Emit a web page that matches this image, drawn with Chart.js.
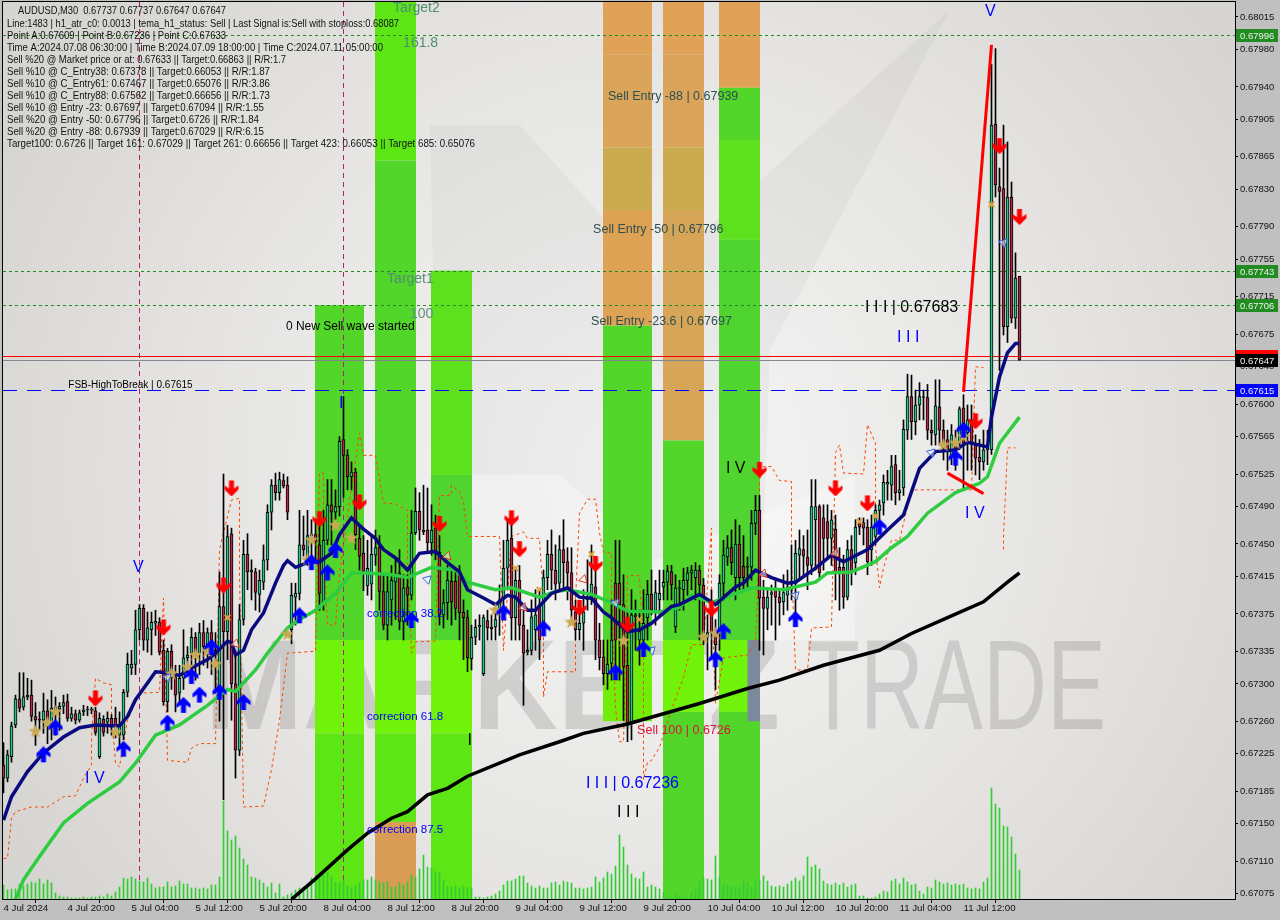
<!DOCTYPE html>
<html>
<head>
<meta charset="utf-8">
<title>AUDUSD,M30</title>
<style>html,body{margin:0;padding:0;background:#c0c0c0}canvas{display:block}</style>
<script src="https://cdn.jsdelivr.net/npm/chart.js@4"></script>
</head>
<body>
<canvas id="c" width="1280" height="920"></canvas>
<script>
// prices are in points (0.67647 = 67647)
const opens = [
67213,67199,67222,67256,67284,67275,67286,67288,67265,67262,
67261,67271,67253,67275,67273,67276,67281,67263,67268,67261,
67270,67272,67272,67271,67222,67262,67259,67263,67263,67245,
67245,67291,67317,67321,67358,67381,67347,67358,67365,67366,
67336,67281,67335,67307,67290,67306,67328,67333,67350,67333,
67355,67342,67355,67336,67294,67383,67356,67461,67300,67229,
67369,67439,67420,67420,67396,67409,67433,67484,67513,67505,
67518,67513,67358,67393,67397,67449,67434,67459,67460,67449,
67385,67454,67492,67484,67490,67562,67545,67522,67527,67456,
67440,67405,67407,67438,67446,67399,67363,67390,67409,67419,
67367,67404,67395,67462,67485,67465,67465,67451,67467,67441,
67374,67387,67410,67410,67419,67377,67371,67327,67350,67361,
67311,67368,67361,67361,67376,67392,67424,67456,67371,67411,
67363,67334,67336,67358,67385,67361,67414,67439,67422,67408,
67444,67431,67419,67377,67358,67365,67390,67390,67404,67347,
67329,67311,67322,67408,67408,67385,67320,67258,67372,67347,
67347,67371,67396,67376,67390,67404,67409,67420,67361,67402,
67401,67411,67419,67414,67422,67406,67350,67385,67355,67355,
67408,67436,67446,67414,67450,67426,67425,67425,67472,67486,
67393,67381,67396,67401,67393,67388,67395,67408,67408,67438,
67444,67436,67427,67476,67490,67478,67474,67456,67466,67425,
67425,67393,67444,67430,67473,67473,67468,67444,67458,67486,
67494,67514,67513,67535,67505,67510,67572,67608,67581,67599,
67607,67607,67572,67567,67597,67572,67562,67543,67558,67558,
67596,67569,67583,67558,67543,67538,67551,67551,67900,67833,
67831,67683,67822,67692,67737];
const highs = [
67237,67229,67259,67288,67312,67312,67306,67304,67280,67270,
67290,67283,67293,67286,67280,67288,67289,67275,67272,67272,
67277,67276,67275,67275,67269,67266,67270,67267,67275,67270,
67294,67333,67336,67379,67385,67385,67377,67377,67379,67371,
67347,67338,67342,67320,67320,67358,67340,67360,67355,67365,
67368,67360,67368,67355,67420,67525,67470,67467,67336,67385,
67454,67461,67433,67424,67422,67449,67492,67519,67526,67527,
67525,67522,67408,67408,67486,67480,67486,67476,67476,67478,
67486,67519,67519,67508,67565,67608,67551,67538,67531,67470,
67459,67454,67459,67465,67459,67417,67417,67427,67433,67444,
67417,67417,67486,67510,67505,67513,67510,67492,67481,67459,
67401,67427,67422,67420,67427,67390,67379,67363,67369,67374,
67374,67379,67374,67381,67406,67454,67476,67476,67422,67427,
67379,67358,67390,67401,67401,67422,67454,67465,67449,67459,
67476,67446,67446,67390,67379,67401,67433,67449,67433,67365,
67347,67347,67390,67454,67454,67417,67379,67401,67390,67379,
67401,67411,67422,67411,67422,67422,67427,67427,67417,67411,
67424,67425,67427,67430,67427,67413,67374,67401,67369,67417,
67454,67459,67465,67476,67470,67459,67436,67486,67502,67502,
67411,67401,67406,67411,67401,67417,67422,67449,67454,67465,
67459,67465,67519,67519,67492,67492,67492,67486,67481,67446,
67438,67454,67459,67476,67478,67478,67476,67481,67492,67497,
67524,67529,67545,67545,67529,67583,67632,67631,67615,67623,
67615,67621,67583,67626,67626,67583,67572,67578,67572,67597,
67610,67599,67599,67567,67562,67572,67572,67964,67981,67853,
67899,67881,67838,67762,67737];
const lows = [
67183,67195,67216,67253,67270,67272,67283,67260,67234,67251,
67247,67236,67240,67245,67250,67268,67260,67260,67257,67259,
67266,67266,67268,67245,67220,67244,67247,67245,67242,67234,
67240,67286,67310,67310,67347,67336,67334,67331,67352,67331,
67277,67270,67294,67270,67280,67294,67310,67310,67304,67310,
67320,67317,67310,67290,67260,67176,67326,67261,67199,67223,
67363,67401,67390,67379,67377,67401,67422,67465,67497,67497,
67510,67476,67343,67363,67390,67437,67427,67437,67433,67379,
67379,67449,67449,67476,67480,67500,67508,67508,67444,67422,
67400,67395,67390,67427,67379,67358,67347,67363,67369,67358,
67347,67363,67390,67460,67454,67460,67441,67438,67433,67363,
67360,67369,67363,67369,67347,67326,67313,67315,67342,67347,
67309,67347,67347,67347,67352,67379,67401,67347,67347,67347,
67277,67331,67331,67336,67326,67352,67401,67401,67390,67401,
67401,67390,67369,67347,67347,67336,67379,67385,67326,67315,
67299,67294,67304,67315,67304,67261,67238,67240,67336,67320,
67331,67347,67374,67363,67374,67390,67390,67390,67355,67379,
67379,67395,67401,67390,67347,67342,67315,67326,67294,67336,
67390,67427,67417,67390,67401,67401,67404,67411,67460,67336,
67331,67358,67363,67347,67363,67374,67379,67390,67369,67411,
67417,67401,67417,67422,67411,67422,67433,67427,67390,67379,
67381,67390,67406,67417,67460,67449,67417,67427,67449,67465,
67481,67497,67497,67492,67497,67502,67562,67562,67567,67583,
67583,67562,67556,67556,67556,67540,67529,67535,67529,67551,
67508,67529,67529,67524,67519,67529,67535,67546,67822,67636,
67674,67666,67687,67681,67647];
const closes = [
67199,67224,67255,67284,67274,67286,67288,67265,67261,67261,
67271,67262,67274,67270,67276,67280,67263,67268,67261,67269,
67272,67273,67273,67248,67263,67248,67263,67255,67254,67256,
67291,67321,67321,67358,67381,67347,67360,67366,67367,67334,
67281,67335,67306,67288,67306,67328,67331,67350,67331,67355,
67340,67355,67336,67332,67383,67356,67458,67300,67229,67369,
67439,67420,67422,67398,67411,67433,67484,67513,67505,67519,
67512,67484,67395,67397,67449,67444,67459,67461,67453,67397,
67454,67492,67484,67490,67560,67545,67522,67527,67460,67437,
67420,67424,67439,67446,67399,67363,67399,67411,67417,67367,
67403,67395,67462,67485,67465,67463,67451,67465,67440,67374,
67387,67411,67388,67381,67376,67371,67328,67350,67361,67363,
67371,67360,67359,67369,67390,67424,67454,67371,67411,67363,
67333,67336,67372,67374,67347,67414,67439,67422,67407,67444,
67430,67419,67379,67358,67365,67377,67392,67407,67347,67328,
67311,67321,67347,67347,67385,67318,67258,67374,67374,67356,
67365,67396,67379,67398,67397,67409,67421,67406,67403,67403,
67411,67419,67422,67422,67406,67355,67355,67355,67342,67408,
67438,67446,67430,67450,67414,67414,67426,67472,67486,67392,
67381,67393,67398,67393,67387,67398,67404,67410,67440,67445,
67437,67427,67490,67490,67419,67456,67456,67476,67419,67419,
67393,67444,67419,67468,67468,67467,67431,67468,67486,67492,
67516,67516,67533,67505,67508,67573,67608,67581,67599,67608,
67608,67572,67569,67598,67572,67554,67551,67567,67543,67595,
67558,67583,67558,67542,67538,67551,67553,67899,67835,67828,
67683,67822,67692,67735,67647];
const volumes = [
14,9,10,10,15,13,15,17,16,20,15,19,16,6,3,2,2,1,1,1,2,1,2,2,3,2,5,3,7,12,
21,20,22,20,18,17,21,15,11,12,12,17,12,13,18,15,15,11,11,10,11,10,14,14,22,
98,68,59,63,51,40,34,22,21,19,16,12,16,6,15,2,4,
6,9,11,12,12,21,23,26,29,27,22,17,16,19,13,11,13,16,19,19,22,19,17,16,17,12,12,16,14,17,24,22,
30,44,32,31,27,26,19,13,12,13,11,13,12,11,2,2,1,2,3,5,8,14,18,18,20,23,23,16,13,11,13,11,11,16,17,14,18,17,16,11,11,
10,11,12,22,17,21,27,25,33,64,52,34,25,21,20,
27,12,14,12,10,7,2,2,6,3,2,2,7,9,18,21,20,19,43,22,15,13,12,12,12,18,16,12,18,19,
23,18,13,12,13,12,15,18,21,18,23,42,32,34,30,18,15,14,16,14,16,12,14,15,3,3,1,1,2,5,
8,7,18,20,15,21,17,14,15,8,5,12,11,19,17,15,16,14,15,14,15,11,10,11,10,17,21,111,95,91,73,72,62,45,29];

const temaBars = [0,2,6,10,15,19,23,27,29,31,33,36,38,41,44,47,51,53,56,57,58,60,62,65,68,70,71,73,76,79,82,84,87,90,93,95,98,101,104,108,111,114,116,120,123,126,128,131,133,137,141,144,147,150,152,156,159,162,167,169,174,178,183,185,188,192,196,198,203,207,210,216,221,225,229,233,238,241,246,247,249,250,251,253,254];
const temaVals = [67154,67179,67206,67226,67243,67253,67256,67255,67255,67265,67283,67301,67313,67312,67309,67317,67326,67333,67346,67344,67331,67336,67358,67376,67408,67427,67432,67425,67430,67431,67440,67460,67478,67466,67456,67444,67435,67422,67440,67442,67430,67420,67401,67392,67385,67395,67393,67379,67379,67397,67403,67393,67392,67377,67371,67356,67358,67365,67383,67385,67396,67385,67404,67408,67422,67414,67408,67409,67424,67438,67431,67444,67465,67481,67531,67549,67551,67559,67554,67586,67629,67642,67655,67665,67665];
const midBars = [3,5,9,15,21,29,33,38,44,51,56,58,63,66,71,74,78,83,87,91,97,101,107,113,116,123,127,134,138,141,147,152,156,164,169,172,177,187,195,203,206,212,218,222,226,231,238,244,246,249,254];
const midVals = [67069,67090,67115,67151,67172,67195,67215,67245,67256,67277,67294,67292,67315,67333,67360,67369,67379,67397,67419,67419,67417,67414,67425,67422,67409,67401,67403,67393,67399,67401,67396,67387,67378,67377,67382,67395,67387,67403,67401,67409,67419,67420,67431,67446,67458,67483,67505,67515,67522,67558,67586];
const slowBars = [72,78,86,91,97,101,106,111,116,129,139,145,156,165,174,186,194,205,219,227,236,245,251,254];
const slowVals = [67069,67091,67122,67140,67156,67163,67181,67188,67201,67224,67238,67247,67257,67268,67279,67295,67304,67320,67336,67354,67371,67388,67409,67419];
const envBars = [0,1,2,3,7,11,15,18,20,22,22,23,25,27,27,28,29,31,34,39,40,41,46,47,49,53,54,57,59,59,60,65,67,69,71,78,79,80,80,81,83,84,89,90,93,95,98,101,101,102,103,108,109,112,112,114,115,116,124,125,127,130,131,134,135,135,136,143,143,144,146,148,149,150,152,152,153,154,155,156,159,160,160,161,162,164,167,170,172,175,177,177,178,180,186,188,189,189,190,192,194,197,197,198,201,202,207,208,209,210,215,216,218,218,219,220,222,224,227,242,243,245,null,250,250,251,253];
const envVals = [67113,67113,67156,67163,67168,67168,67179,67180,67199,67213,67243,67306,67301,67299,67269,67215,67211,67261,67290,67291,67392,67218,67216,67231,67236,67236,67444,67497,67499,67419,67168,67169,67208,67261,67333,67335,67526,67526,67454,67363,67363,67419,67569,67545,67545,67494,67493,67486,67433,67333,67345,67346,67502,67502,67513,67506,67494,67458,67458,67336,67458,67463,67456,67456,67390,67286,67313,67313,67390,67483,67498,67498,67462,67441,67440,67390,67275,67238,67238,67416,67416,67326,67197,67216,67218,67232,67272,67307,67342,67342,67467,67397,67279,67328,67331,67344,67451,67519,67533,67533,67518,67517,67433,67315,67315,67360,67361,67548,67556,67526,67525,67578,67558,67447,67403,67424,67454,67454,67508,67508,67640,67639,null,67444,67457,67553,67553];
const waveUpBars = [240,247];
const waveUpVals = [67613,67985];
const waveDownBars = [236,245];
const waveDownVals = [67526,67504];

const sellBars = [23,40,57,55,79,89,109,127,129,148,144,156,177,189,208,216,243,249,254];
const sellVals = [67285,67361,67510,67406,67477,67495,67472,67478,67445,67429,67382,67364,67381,67530,67510,67494,67582,67877,67801];
const buyBars = [10,13,30,41,45,49,54,60,47,52,74,77,81,83,102,125,135,153,160,178,180,198,219,238,240];
const buyVals = [67224,67253,67230,67258,67277,67288,67291,67280,67308,67339,67373,67430,67419,67443,67368,67376,67359,67312,67337,67326,67356,67369,67468,67542,67572];
const starBars = [8,11,13,28,42,46,48,51,53,71,76,77,83,87,123,142,155,175,178,235,238,240];
const starVals = [67249,67258,67270,67248,67311,67318,67331,67335,67321,67353,67433,67454,67470,67456,67379,67366,67346,67350,67354,67556,67558,67565];
const crossBars = [56,128,134,147,159,214,218,247];
const crossVals = [67371,67424,67401,67439,67369,67474,67480,67814];
const hollowRedBars = [58,111,130,145,190,208];
const hollowRedVals = [67343,67437,67382,67412,67418,67440];
const hollowBlueBars = [41,106,153,162,198,232,250];
const hollowBlueVals = [67307,67412,67387,67336,67395,67548,67773];

const yTicks = [68015,67980,67940,67905,67865,67830,67790,67755,67715,67675,67640,67600,67565,67525,67490,67450,67415,67375,67335,67300,67260,67225,67185,67150,67110,67075];
const xTickBars = [0,16,32,48,64,80,96,112,128,144,160,176,192,208,224,240];
const xTickLabels = ['4 Jul 2024','4 Jul 20:00','5 Jul 04:00','5 Jul 12:00','5 Jul 20:00','8 Jul 04:00','8 Jul 12:00','8 Jul 20:00','9 Jul 04:00','9 Jul 12:00','9 Jul 20:00','10 Jul 04:00','10 Jul 12:00','10 Jul 20:00','11 Jul 04:00','11 Jul 12:00'];

const levelVals = [67996,67743,67706,67652,67647,67615];
const levelColors = ['#228b22','#228b22','#228b22','#ff0000','#808890','#0000ff'];
const levelDash = [[3,3],[3,3],[3,3],[],[],[14,10]];
const tagColors = ['#228b22','#228b22','#228b22','#ff0000','#000000','#0000ff'];
const cycleBars = [34,85];

// start bar, end bar, top price, bottom price, colour
const zoneStart = [78,78,78, 93,93,93,93,93, 107,107,107,107, 150,150,150,150,150,150, 165,165,165,165,165,165,165, 179,179,179,179,179,179];
const zoneEnd   = [90,90,90, 103,103,103,103,103, 117,117,117,117, 162,162,162,162,162,162, 175,175,175,175,175,175,175, 189,189,189,189,189,189];
const zoneTop   = [67706,67347,67247, 68031,67861,67347,67247,67152, 67743,67524,67347,67247, 68031,67975,67875,67808,67684,67347, 68031,67975,67875,67808,67561,67347,67270, 68031,67939,67883,67776,67347,67270];
const zoneBot   = [67347,67247,67069, 67861,67347,67247,67152,67069, 67524,67347,67247,67069, 67975,67875,67808,67684,67347,67260, 67975,67875,67808,67561,67347,67270,67069, 67939,67883,67776,67347,67270,67069];
const zoneColor = ['#52d62a','#70f20a','#5de516', '#5de516','#52d62a','#70f20a','#5de516','#d89c55', '#5de01e','#4fd430','#70f20a','#5de516',
  '#dfa257','#daa55a','#cbab50','#dda254','#52d62a','#70ee0a', '#dfa257','#daa55a','#cbab50','#d6a558','#52d62a','#70f20a','#52d62a',
  '#dfa257','#52d62a','#5de01e','#4fd430','#70f20a','#52d62a'];

const infoLines = [
'AUDUSD,M30  0.67737 0.67737 0.67647 0.67647',
'Line:1483 | h1_atr_c0: 0.0013 | tema_h1_status: Sell | Last Signal is:Sell with stoploss:0.68087',
'Point A:0.67609 | Point B:0.67236 | Point C:0.67633',
'Time A:2024.07.08 06:30:00 | Time B:2024.07.09 18:00:00 | Time C:2024.07.11 05:00:00',
'Sell %20 @ Market price or at: 0.67633 || Target:0.66863 || R/R:1.7',
'Sell %10 @ C_Entry38: 0.67378 || Target:0.66053 || R/R:1.87',
'Sell %10 @ C_Entry61: 0.67467 || Target:0.65076 || R/R:3.86',
'Sell %10 @ C_Entry88: 0.67562 || Target:0.66656 || R/R:1.73',
'Sell %10 @ Entry -23: 0.67697 || Target:0.67094 || R/R:1.55',
'Sell %20 @ Entry -50: 0.67796 || Target:0.6726 || R/R:1.84',
'Sell %20 @ Entry -88: 0.67939 || Target:0.67029 || R/R:6.15',
'Target100: 0.6726 || Target 161: 0.67029 || Target 261: 0.66656 || Target 423: 0.66053 || Target 685: 0.65076'];
const infoY = [11,24,36,48,60,72,84,96,108,120,132,144];
const infoW = [208,392,219,376,279,263,263,263,257,252,257,468];

const noteText = ['Target2','161.8','Target1','100','0 New Sell wave started','Sell Entry -88 | 0.67939','Sell Entry -50 | 0.67796','Sell Entry -23.6 | 0.67697','Sell 100 | 0.6726','I I I | 0.67236','I I I','correction 38.2','correction 61.8','correction 87.5','I I I | 0.67683','I I I','I V','I V','I V','V','V','I','I','FSB-HighToBreak | 0.67615'];
const noteBar = [97.4,99.9,95.9,101.6,70.6,151.1,147.4,146.9,158.4,145.6,153.4,90.9,90.9,90.9,215.4,223.4,180.6,240.4,20.4,32.4,245.4,83.9,116,16.2];
const notePrice = [68024,67987,67734,67696,67683,67930,67787,67688,67250,67193,67162,67375,67265,67144,67703,67671,67531,67483,67199,67425,68021,67601,67239,67620];
const noteSize = [14,14,14,14,12,12.5,12.5,12.5,12.5,16,16,11.5,11.5,11.5,16,16,16,16,16,16,16,16,16,10];
const noteColor = ['#4f8f6f','#4f8f6f','#4f8f6f','#5f8f7f','#000','#2f4f4f','#2f4f4f','#2f4f4f','#dc143c','#0000ff','#000','#0000ff','#0000ff','#0000ff','#000','#0000ff','#000','#0000ff','#0000ff','#0000ff','#0000ff','#0000ff','#000','#000'];

const FONT = '"Liberation Sans", Arial, sans-serif';

function arrowImage(color, up) {
  const c = document.createElement('canvas');
  c.width = 16; c.height = 17;
  const g = c.getContext('2d');
  if (!up) { g.translate(0, 17); g.scale(1, -1); }
  g.beginPath();
  [[8,0],[15,7],[15,11],[10.5,8],[10.5,16],[5.5,16],[5.5,8],[1,11],[1,7]].forEach((p,i) => i ? g.lineTo(p[0],p[1]) : g.moveTo(p[0],p[1]));
  g.closePath();
  g.fillStyle = color;
  g.fill();
  return c;
}

function starImage() {
  const c = document.createElement('canvas');
  c.width = 16; c.height = 16;
  const g = c.getContext('2d');
  g.beginPath();
  for (let k = 0; k < 10; k++) {
    const r = k % 2 ? 3 : 7.5, a = -Math.PI/2 + k*Math.PI/5;
    g.lineTo(8 + r*Math.cos(a), 8 + r*Math.sin(a));
  }
  g.closePath();
  g.fillStyle = '#c8aa55';
  g.fill();
  return c;
}

const pts = (xs, ys) => xs.map((x,i) => ({ x, y: ys[i] }));
const candle = i => closes[i] >= opens[i] ? '#2ac48a' : '#b02a45';

function lineSet(xs, ys, color, width, order, extra) {
  return Object.assign({ type:'line', data:pts(xs,ys), borderColor:color, borderWidth:width, pointRadius:0, tension:0, fill:false, order, yAxisID:'y' }, extra||{});
}
function markSet(xs, ys, style, order, extra) {
  return Object.assign({ type:'line', showLine:false, data:pts(xs,ys), pointStyle:style, pointRadius:7, order, yAxisID:'y' }, extra||{});
}

const backdrop = {
  id:'backdrop',
  beforeDraw(chart) {
    const { ctx, chartArea:a, scales:{x,y} } = chart;
    ctx.save();
    ctx.fillStyle = '#c0c0c0';
    ctx.fillRect(0,0,chart.width,chart.height);
    const grad = ctx.createRadialGradient(640,470,60,640,470,720);
    grad.addColorStop(0,'#f4f4f4');
    grad.addColorStop(0.55,'#e6e5e3');
    grad.addColorStop(1,'#d6d5d1');
    ctx.fillStyle = grad;
    ctx.fillRect(a.left,a.top,a.width,a.height);
    // watermark logo
    ctx.fillStyle = 'rgba(0,0,0,0.03)';
    ctx.beginPath();
    [[430,125],[520,125],[655,275],[950,10],[770,350],[760,640],[440,640]].forEach((p,i) => i ? ctx.lineTo(p[0],p[1]) : ctx.moveTo(p[0],p[1]));
    ctx.closePath(); ctx.fill();
    ctx.fillStyle = 'rgba(255,255,255,0.35)';
    ctx.beginPath();
    [[470,475],[560,475],[655,560],[855,475],[855,640],[470,640]].forEach((p,i) => i ? ctx.lineTo(p[0],p[1]) : ctx.moveTo(p[0],p[1]));
    ctx.closePath(); ctx.fill();
    // watermark text
    ctx.textBaseline = 'alphabetic'; ctx.textAlign = 'left';
    ctx.fillStyle = 'rgba(0,0,0,0.12)';
    ctx.font = 'bold 128px ' + FONT;
    ctx.fillText('MARKETZ', 205, 729, 575);
    ctx.font = '128px ' + FONT;
    ctx.fillText('TRADE', 806, 729, 300);
    // zones
    zoneStart.forEach((s,i) => {
      const l = x.getPixelForValue(s-0.125), r = x.getPixelForValue(zoneEnd[i]+0.125);
      const t = y.getPixelForValue(zoneTop[i]), b = y.getPixelForValue(zoneBot[i]);
      ctx.fillStyle = zoneColor[i];
      ctx.fillRect(l, Math.max(t,a.top), r-l, Math.min(b,a.bottom)-Math.max(t,a.top));
    });
    // grey block of the watermark over the last zone
    ctx.fillStyle = '#7a8a9a';
    ctx.fillRect(x.getPixelForValue(186), y.getPixelForValue(67347), x.getPixelForValue(189.125)-x.getPixelForValue(186), y.getPixelForValue(67260)-y.getPixelForValue(67347));
    // levels
    ctx.lineWidth = 1;
    levelVals.forEach((v,i) => {
      const py = Math.round(y.getPixelForValue(v)) + 0.5;
      ctx.strokeStyle = levelColors[i];
      ctx.setLineDash(levelDash[i]);
      ctx.beginPath(); ctx.moveTo(a.left,py); ctx.lineTo(a.right,py); ctx.stroke();
    });
    ctx.strokeStyle = '#b0207a';
    ctx.setLineDash([5,4]);
    cycleBars.forEach(b => {
      const px = Math.round(x.getPixelForValue(b)) - 0.5;
      ctx.beginPath(); ctx.moveTo(px,a.top); ctx.lineTo(px,a.bottom); ctx.stroke();
    });
    ctx.restore();
  },
  afterDatasetsDraw(chart) {
    const { ctx, chartArea:a, scales:{x,y} } = chart;
    ctx.save();
    ctx.textBaseline = 'middle'; ctx.textAlign = 'left';
    noteText.forEach((t,i) => {
      ctx.font = noteSize[i] + 'px ' + FONT;
      ctx.fillStyle = noteColor[i];
      ctx.fillText(t, x.getPixelForValue(noteBar[i]), y.getPixelForValue(notePrice[i]));
    });
    ctx.font = '10.5px ' + FONT;
    ctx.fillStyle = '#111';
    infoLines.forEach((t,i) => ctx.fillText(t, i ? 7 : 18, infoY[i], infoW[i]));
    // frame
    ctx.strokeStyle = '#000'; ctx.lineWidth = 1;
    ctx.strokeRect(a.left-0.5, a.top-0.5, a.width+1, a.height+1);
    // price tags on the right axis
    ctx.font = '9.5px ' + FONT;
    levelVals.forEach((v,i) => {
      const py = Math.round(y.getPixelForValue(v));
      ctx.fillStyle = tagColors[i];
      ctx.fillRect(a.right+1, py-6, 42, 13);
      ctx.fillStyle = '#eef4ea';
      ctx.fillText((v/1e5).toFixed(5), a.right+5, py+1);
    });
    ctx.restore();
  }
};

new Chart(document.getElementById('c'), {
  type:'bar',
  data:{ datasets:[
    { type:'bar', data:pts(opens.map((_,i)=>i), volumes), yAxisID:'vol', backgroundColor:'#32cd32', barThickness:1, grouped:false, order:12 },
    lineSet(envBars, envVals, '#ff4500', 1, 9, { borderDash:[3,3], spanGaps:false }),
    { type:'bar', data:opens.map((_,i)=>({ x:i, y:[lows[i],highs[i]] })), yAxisID:'y', backgroundColor:'#000', barThickness:1, grouped:false, order:8 },
    { type:'bar', data:opens.map((o,i)=>({ x:i, y:[o,closes[i]] })), yAxisID:'y', backgroundColor:opens.map((_,i)=>candle(i)), borderColor:'#000', borderWidth:1, borderSkipped:false, barThickness:3, minBarLength:1, grouped:false, order:7 },
    lineSet(midBars, midVals, '#2ecc40', 3.5, 6),
    lineSet(slowBars, slowVals, '#000', 3.5, 5),
    lineSet(temaBars, temaVals, '#0a0a80', 3.5, 4),
    lineSet(waveUpBars, waveUpVals, '#ff0000', 3, 3),
    lineSet(waveDownBars, waveDownVals, '#ff0000', 3, 3),
    markSet(hollowRedBars, hollowRedVals, 'triangle', 2, { pointRadius:5, pointRotation:135, pointBackgroundColor:'rgba(255,255,255,0.5)', pointBorderColor:'#e03020', pointBorderWidth:1 }),
    markSet(hollowBlueBars, hollowBlueVals, 'triangle', 2, { pointRadius:5, pointRotation:45, pointBackgroundColor:'rgba(255,255,255,0.5)', pointBorderColor:'#3060e0', pointBorderWidth:1 }),
    markSet(starBars, starVals, starImage(), 2),
    markSet(crossBars, crossVals, 'crossRot', 2, { pointRadius:4, pointBorderColor:'#d8a040', pointBorderWidth:2 }),
    markSet(sellBars, sellVals, arrowImage('#ff0000', false), 1),
    markSet(buyBars, buyVals, arrowImage('#0000ff', true), 1)
  ]},
  options:{
    responsive:false, animation:false, devicePixelRatio:1,
    events:[],
    layout:{ autoPadding:false, padding:{ left:3, top:2, right:0, bottom:0 } },
    plugins:{ legend:{display:false}, tooltip:{enabled:false} },
    scales:{
      x:{
        type:'linear', min:-0.125, max:307.875, offset:false,
        grid:{ drawOnChartArea:false, drawTicks:true, tickLength:4, color:'#000' },
        border:{ color:'#000' },
        afterBuildTicks:s => { s.ticks = xTickBars.map(v => ({ value:v })); },
        afterFit:s => { s.height = 21; s.paddingLeft = 0; s.paddingRight = 0; },
        ticks:{ autoSkip:false, maxRotation:0, minRotation:0, align:'start', padding:0, color:'#111',
          font:{ family:FONT, size:9.7 },
          callback:v => xTickLabels[xTickBars.indexOf(v)] }
      },
      y:{
        position:'right', min:67069.4, max:68031,
        grid:{ drawOnChartArea:false, drawTicks:true, tickLength:3, color:'#000' },
        border:{ color:'#000' },
        afterBuildTicks:s => { s.ticks = yTicks.map(v => ({ value:v })); },
        afterFit:s => { s.width = 45; s.paddingTop = 0; s.paddingBottom = 0; },
        ticks:{ autoSkip:false, padding:2, color:'#111', font:{ family:FONT, size:9.5 }, callback:v => (v/1e5).toFixed(5) }
      },
      vol:{ display:false, min:0, max:897 }
    }
  },
  plugins:[backdrop]
});
</script>
</body>
</html>
